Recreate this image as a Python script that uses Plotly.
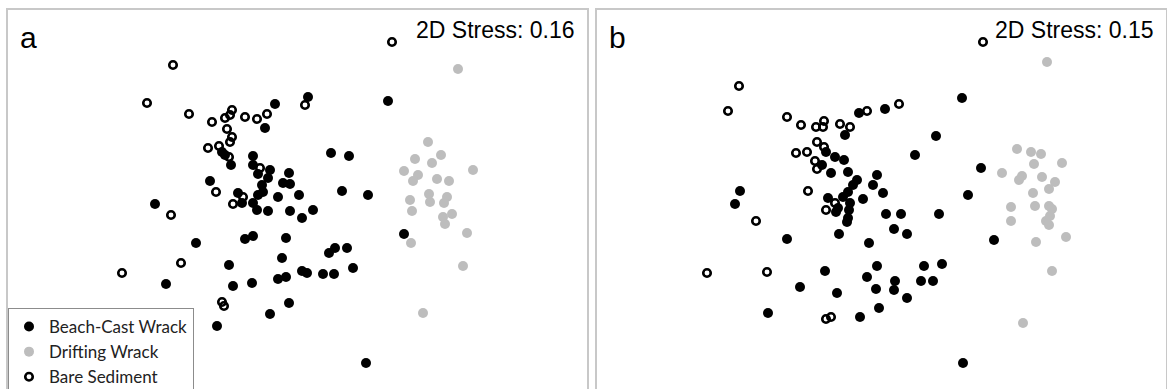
import plotly.graph_objects as go

# nMDS ordination scores (plotted on the page-pixel scale of each panel)
# Panel a
a_beach_x = [275, 308, 265, 222, 225, 231, 253, 253, 258, 270, 268, 289, 283, 290, 331, 349, 342, 368,
             388, 210, 262, 263, 258, 278, 299, 238, 242, 253, 257, 268, 290, 302, 313, 155, 196, 166,
             229, 233, 252, 245, 253, 286, 282, 278, 286, 302, 307, 323, 334, 329, 335, 347, 353, 289,
             270, 217, 404, 366]
a_beach_y = [104, 97, 128, 152, 155, 165, 156, 165, 174, 170, 178, 173, 183, 184, 153, 156, 191, 195,
             101, 181, 185, 192, 195, 197, 195, 193, 203, 203, 210, 211, 211, 218, 210, 204, 243, 284,
             265, 286, 283, 239, 236, 238, 258, 279, 277, 271, 273, 274, 274, 253, 248, 248, 268, 303,
             314, 326, 234, 363]
a_drift_x = [458, 428, 415, 441, 432, 404, 418, 413, 437, 449, 473, 429, 447, 410, 412, 430, 444, 443,
             452, 445, 467, 411, 463, 423]
a_drift_y = [69, 142, 159, 155, 163, 171, 175, 181, 179, 181, 170, 194, 197, 200, 211, 202, 203, 217,
             214, 224, 233, 243, 266, 313]
a_bare_x = [173, 147, 189, 212, 225, 232, 230, 245, 257, 267, 227, 232, 230, 208, 219, 216, 233, 243,
            260, 305, 392, 171, 181, 122, 222, 224, 229]
a_bare_y = [65, 103, 114, 122, 118, 110, 115, 117, 119, 114, 129, 137, 142, 148, 146, 192, 204, 197,
            168, 105, 42, 215, 263, 273, 302, 306, 157]

# Panel b
b_beach_x = [859, 885, 845, 936, 915, 826, 835, 844, 822, 831, 848, 857, 877, 873, 883, 853, 848, 843,
             828, 863, 850, 838, 849, 848, 836, 886, 901, 939, 740, 735, 787, 839, 847, 869, 894, 907,
             877, 867, 876, 895, 894, 907, 879, 860, 825, 800, 837, 768, 924, 942, 921, 933, 962, 981,
             968, 994, 963]
b_beach_y = [113, 109, 135, 136, 155, 152, 157, 160, 165, 173, 172, 180, 175, 185, 193, 185, 192, 197,
             198, 199, 203, 208, 210, 218, 212, 214, 214, 214, 191, 204, 239, 234, 222, 243, 229, 234,
             266, 277, 289, 281, 290, 298, 308, 317, 271, 287, 293, 313, 266, 264, 281, 281, 98, 168,
             195, 240, 363]
b_drift_x = [1047, 1017, 1031, 1041, 1034, 1062, 1002, 1022, 1019, 1042, 1055, 1049, 1033, 1011, 1035,
             1049, 1052, 1011, 1046, 1050, 1049, 1066, 1036, 1052, 1023]
b_drift_y = [62, 149, 152, 154, 164, 163, 173, 176, 180, 177, 182, 189, 193, 207, 206, 206, 209, 221,
             221, 216, 225, 237, 242, 271, 323]
b_bare_x = [739, 728, 787, 801, 816, 824, 823, 840, 850, 867, 899, 983, 817, 824, 796, 807, 815, 817,
            808, 835, 826, 756, 707, 767, 826, 831]
b_bare_y = [86, 111, 117, 125, 127, 121, 127, 124, 127, 111, 104, 42, 142, 147, 153, 152, 161, 169,
            191, 203, 210, 221, 273, 272, 319, 317]

group_names = ["Beach-Cast Wrack", "Drifting Wrack", "Bare Sediment"]
panel_labels = ["a", "b"]
stress_values = [0.16, 0.15]

W, H = 1167, 389
ax_a = (8, 587)
ax_b = (597, 1166)
y_top, y_bot = 10, 389

filled_black = dict(symbol="circle", size=10, color="black", line=dict(width=0))
filled_grey = dict(symbol="circle", size=10, color="#bdbdbd", line=dict(width=0))
ring = dict(symbol="circle-open", size=7.5, color="black", line=dict(width=2.6, color="black"))

fig = go.Figure()

panels = [
    ("x", "y", a_beach_x, a_beach_y, a_drift_x, a_drift_y, a_bare_x, a_bare_y, True),
    ("x2", "y2", b_beach_x, b_beach_y, b_drift_x, b_drift_y, b_bare_x, b_bare_y, False),
]
for xa, ya, bx, by, dx, dy, sx, sy, leg in panels:
    fig.add_trace(go.Scatter(x=bx, y=by, mode="markers", marker=filled_black, name=group_names[0],
                             xaxis=xa, yaxis=ya, showlegend=leg))
    fig.add_trace(go.Scatter(x=dx, y=dy, mode="markers", marker=filled_grey, name=group_names[1],
                             xaxis=xa, yaxis=ya, showlegend=leg))
    fig.add_trace(go.Scatter(x=sx, y=sy, mode="markers", marker=ring, name=group_names[2],
                             xaxis=xa, yaxis=ya, showlegend=leg))

frame = dict(showgrid=False, zeroline=False, showticklabels=False, ticks="",
             showline=True, linecolor="#c8c8c8", linewidth=2)

fig.update_layout(
    width=W, height=H,
    margin=dict(l=0, r=0, t=0, b=0, autoexpand=False),
    paper_bgcolor="white", plot_bgcolor="white",
    xaxis=dict(domain=[ax_a[0] / W, ax_a[1] / W], range=list(ax_a), side="top", **frame),
    xaxis2=dict(domain=[ax_b[0] / W, ax_b[1] / W], range=list(ax_b), side="top", **frame),
    yaxis=dict(domain=[0, 1 - y_top / H], range=[y_bot, y_top], mirror=True, anchor="x", **frame),
    yaxis2=dict(domain=[0, 1 - y_top / H], range=[y_bot, y_top], mirror=True, anchor="x2", **frame),
    showlegend=True,
    legend=dict(
        x=8 / W, y=1 - 308 / H, xanchor="left", yanchor="top",
        bgcolor="white", bordercolor="#8c8c8c", borderwidth=1,
        font=dict(family="Lato", size=17, color="#222222"),
        itemsizing="trace", tracegroupgap=0,
    ),
)

for i, (lab, st) in enumerate(zip(panel_labels, stress_values)):
    left, right = (ax_a, ax_b)[i]
    fig.add_annotation(x=(left + 10) / W, y=1 - 38 / H, xref="paper", yref="paper",
                       text=lab, showarrow=False, xanchor="left", yanchor="middle",
                       font=dict(family="Liberation Sans, Arial", size=30, color="black"))
    fig.add_annotation(x=(right - 10) / W, y=1 - 30 / H, xref="paper", yref="paper",
                       text=f"2D Stress: {st:.2f}", showarrow=False, xanchor="right", yanchor="middle",
                       font=dict(family="Liberation Sans, Arial", size=23, color="black"))

fig.write_html("out.html")
